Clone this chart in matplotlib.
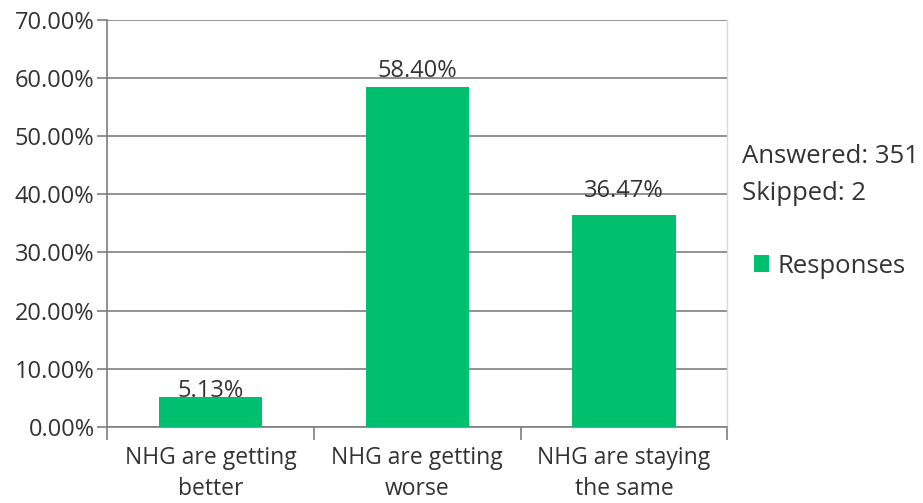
import matplotlib.pyplot as plt
import numpy as np

categories = ["NHG are getting\nbetter", "NHG are getting\nworse", "NHG are staying\nthe same"]
responses = [5.13, 58.40, 36.47]
y_ticks = [0, 10, 20, 30, 40, 50, 60, 70]
answered = 351
skipped = 2

green = "#00BF6F"
grid_col = "#7f7f7f"
text_col = "#333333"

plt.rcParams['font.family'] = ['Open Sans', 'DejaVu Sans']

fig = plt.figure(figsize=(9.23, 5.03), dpi=100)
ax = fig.add_axes([0.116, 0.151, 0.672, 0.810])

x = np.arange(len(categories))
bars = ax.bar(x, responses, width=0.5, color=green, zorder=3, label="Responses")

# value labels sit just above each bar
offsets = [1.0, 2.8, 4.1]
for xi, v, off in zip(x, responses, offsets):
    ax.text(xi, v + off, f"{v:.2f}%", ha="center", va="center",
            fontsize=17, color=text_col, zorder=4)

ax.set_xlim(-0.5, len(categories) - 0.5)
ax.set_ylim(0, 70)
ax.set_yticks(y_ticks)
ax.set_yticklabels([f"{t:.2f}%" for t in y_ticks], fontsize=17, color=text_col)
ax.yaxis.grid(True, color=grid_col, linewidth=1.2, zorder=0)

# category ticks sit between the bars, labels centred under them
ax.set_xticks(np.arange(len(categories) + 1) - 0.5)
ax.set_xticklabels([])
ax.set_xticks(x, minor=True)
ax.set_xticklabels(categories, minor=True, fontsize=16.5, color=text_col, linespacing=1.35)
ax.tick_params(axis="x", which="minor", length=0, pad=14)
ax.tick_params(axis="x", which="major", length=9, width=1.2, color=grid_col)
ax.tick_params(axis="y", length=7, width=1.2, color=grid_col, pad=2)

for side in ["left", "bottom"]:
    ax.spines[side].set_color(grid_col)
    ax.spines[side].set_linewidth(1.2)
ax.spines["top"].set_visible(False)
ax.spines["right"].set_color("#d9d9d9")
ax.spines["right"].set_linewidth(1.0)

fig.text(0.804, 0.688, f"Answered: {answered}", fontsize=18.5, color=text_col, va="center")
fig.text(0.804, 0.616, f"Skipped: {skipped}", fontsize=18.5, color=text_col, va="center")

ax.legend(loc="center left", bbox_to_anchor=(1.005, 0.395), frameon=False,
          fontsize=18.5, handlelength=0.6, handleheight=0.6, handletextpad=0.35,
          labelcolor=text_col)

fig.savefig("out.png", dpi=100)
